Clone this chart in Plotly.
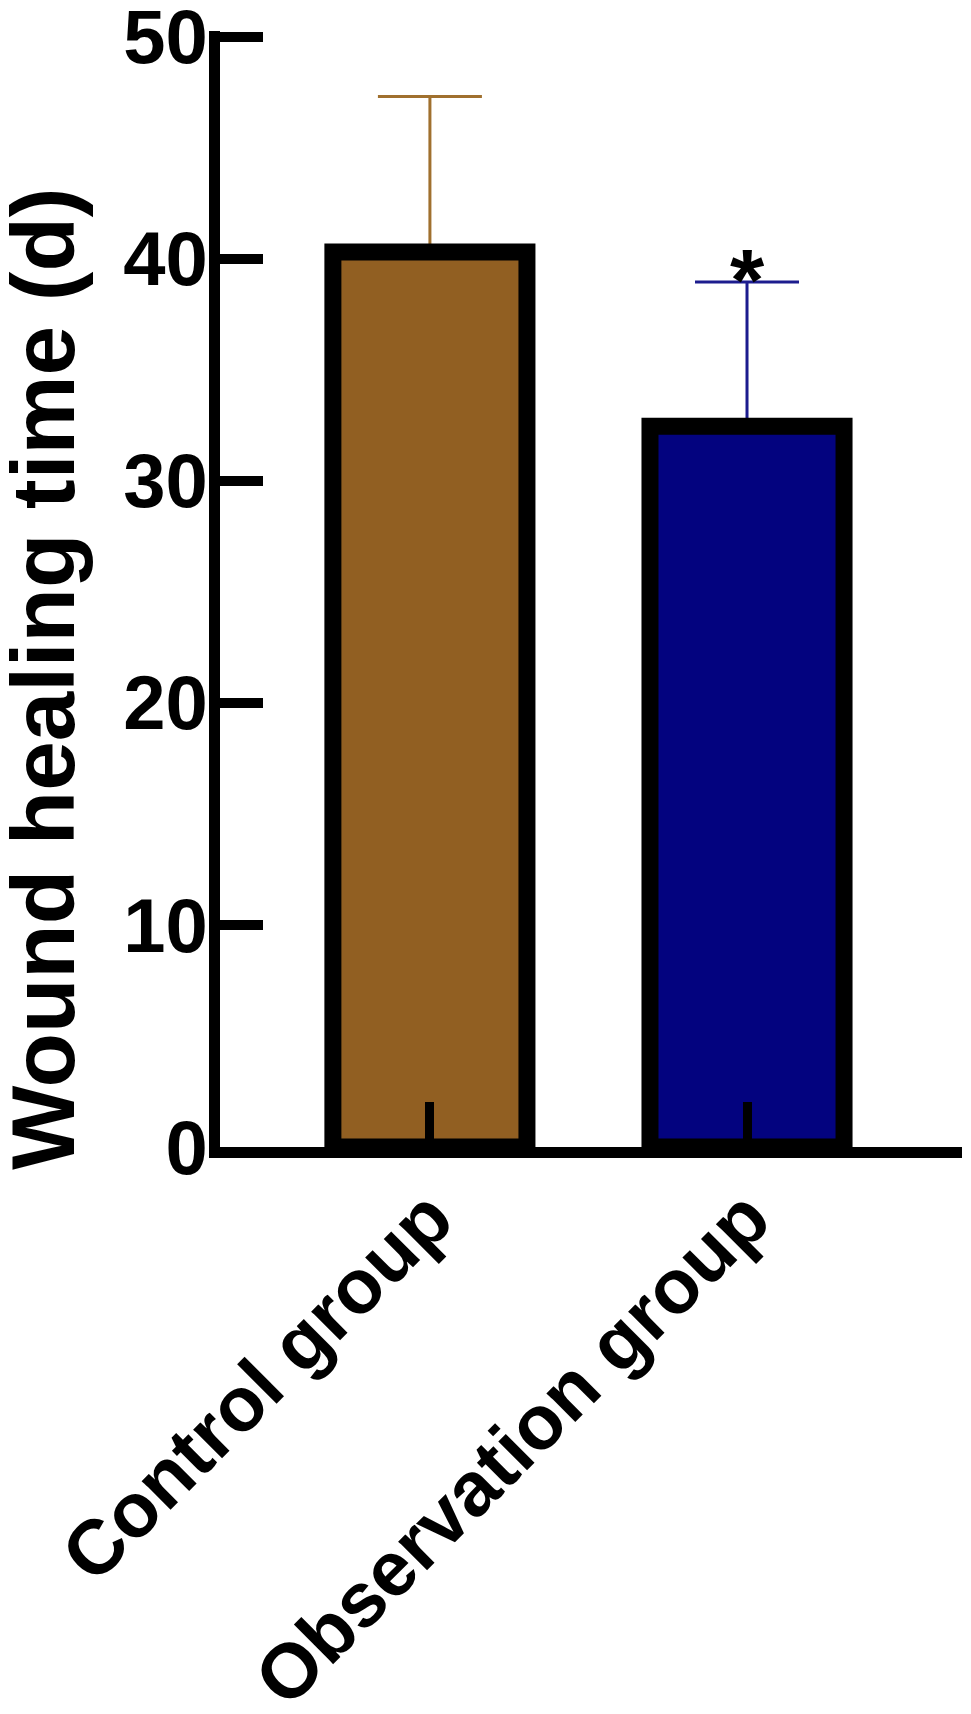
import plotly.graph_objects as go

categories = ["Control group", "Observation group"]
means = [40.3, 32.45]
errors = [7.0, 6.5]
fill_colors = ["#915F22", "#03037F"]
err_colors = ["#A0702E", "#1C1C8E"]
y_ticks = [0, 10, 20, 30, 40, 50]
y_title = "Wound healing time (d)"
sig_marks = ["", "*"]

FONT = "Liberation Sans, Arial, Helvetica, sans-serif"
BAR_W = 0.612

fig = go.Figure()
# error-bar carriers first (so the opaque bars drawn later hide the lower part)
for i, cat in enumerate(categories):
    fig.add_trace(go.Bar(
        x=[cat], y=[means[i]], width=BAR_W,
        marker=dict(color="rgba(0,0,0,0)", line=dict(width=0)),
        error_y=dict(type="data", symmetric=True, array=[errors[i]],
                     color=err_colors[i], thickness=3, width=52),
        showlegend=False, hoverinfo="skip",
    ))
for i, cat in enumerate(categories):
    fig.add_trace(go.Bar(
        x=[cat], y=[means[i]], width=BAR_W,
        marker=dict(color=fill_colors[i], line=dict(color="black", width=17)),
        showlegend=False,
    ))
    if sig_marks[i]:
        fig.add_annotation(x=cat, y=means[i] + errors[i], text=sig_marks[i],
                           showarrow=False, yanchor="middle", yshift=2,
                           font=dict(family=FONT, size=88, color="black", weight="bold"))

fig.add_annotation(xref="paper", yref="y", x=-0.238, y=21.1, text=y_title,
                   textangle=-90, showarrow=False, xanchor="center", yanchor="middle",
                   font=dict(family=FONT, size=89, color="black", weight="bold"))

fig.update_layout(
    width=971, height=1714, autosize=False,
    margin=dict(l=220, r=9, t=31, b=567, pad=0, autoexpand=False),
    plot_bgcolor="white", paper_bgcolor="white",
    barmode="overlay",
)
fig.update_xaxes(
    type="category", range=[-0.662, 1.678], automargin=False,
    showline=True, linewidth=11, linecolor="black",
    ticks="inside", ticklen=45, tickwidth=9, tickcolor="black",
    tickangle=-45, showgrid=False, zeroline=False,
    ticklabelstandoff=-16, ticklabeloverflow="allow",
    tickfont=dict(family=FONT, size=77, color="black", weight="bold"),
)
fig.update_yaxes(
    range=[0, 50.25], tickvals=y_ticks, automargin=False,
    showline=True, linewidth=11, linecolor="black",
    ticks="inside", ticklen=43, tickwidth=10, tickcolor="black",
    showgrid=False, zeroline=False,
    ticklabelstandoff=-14, ticklabeloverflow="allow",
    tickfont=dict(family=FONT, size=76, color="black", weight="bold"),
)

fig.write_html("out.html")
